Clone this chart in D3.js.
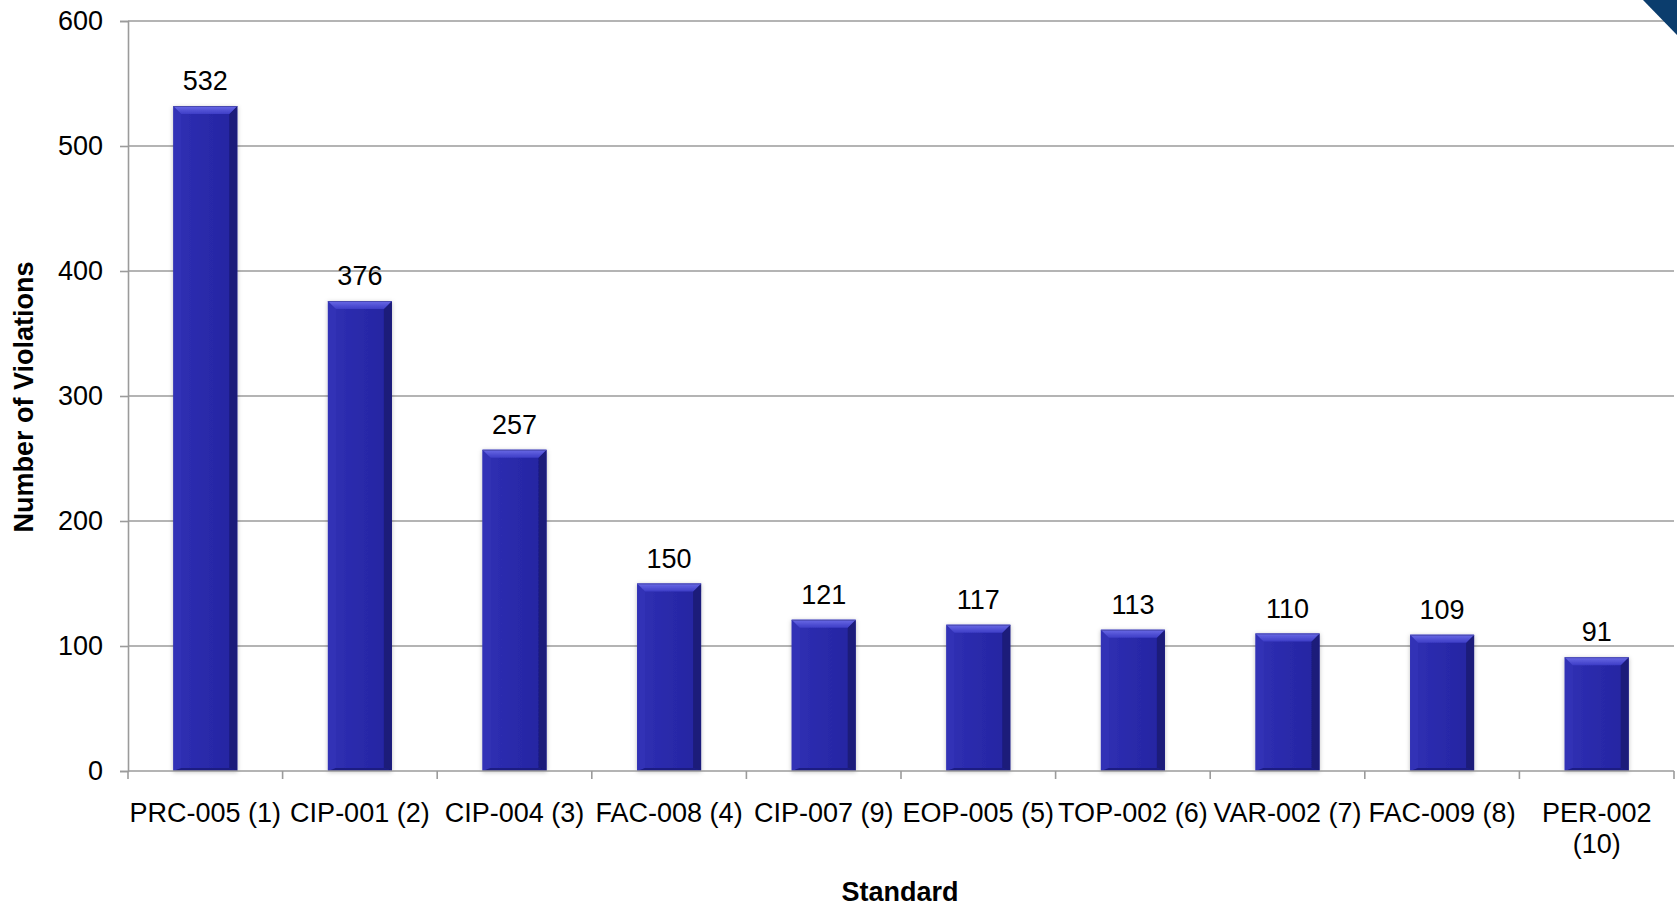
<!DOCTYPE html>
<html>
<head>
<meta charset="utf-8">
<script src="https://cdn.jsdelivr.net/npm/d3@7"></script>
<style>
  html, body { margin: 0; padding: 0; background: #fff; }
  svg { display: block; }
  text { font-family: "Liberation Sans", Arial, sans-serif; fill: #000; }
</style>
</head>
<body>
<svg id="chart" width="1677" height="906"></svg>
<script>
const categories = ["PRC-005 (1)", "CIP-001 (2)", "CIP-004 (3)", "FAC-008 (4)", "CIP-007 (9)", "EOP-005 (5)", "TOP-002 (6)", "VAR-002 (7)", "FAC-009 (8)", "PER-002 (10)"];
const values = [532, 376, 257, 150, 121, 117, 113, 110, 109, 91];
const yTicks = [0, 100, 200, 300, 400, 500, 600];
const yTitle = "Number of Violations";
const xTitle = "Standard";

const svg = d3.select("#chart");
const W = 1677, H = 906;
const margin = {left: 128, right: 3, top: 21, bottom: 135};
const plotW = W - margin.left - margin.right;
const plotH = H - margin.top - margin.bottom;

const x = d3.scaleBand().domain(categories).range([0, plotW]).paddingInner(0.586).paddingOuter(0.293);
const xb = d3.scaleBand().domain(categories).range([0, plotW]).padding(0);
const y = d3.scaleLinear().domain([0, 600]).range([plotH, 0]);

const defs = svg.append("defs");
const g1 = defs.append("linearGradient").attr("id", "barBody").attr("x1", 0).attr("x2", 1).attr("y1", 0).attr("y2", 0);
g1.append("stop").attr("offset", "0%").attr("stop-color", "#3030b4");
g1.append("stop").attr("offset", "45%").attr("stop-color", "#2a2aab");
g1.append("stop").attr("offset", "100%").attr("stop-color", "#2424a0");
const gTop = defs.append("linearGradient").attr("id", "barTop").attr("x1", 0).attr("x2", 0).attr("y1", 0).attr("y2", 1);
gTop.append("stop").attr("offset", "0%").attr("stop-color", "#6a6ae6");
gTop.append("stop").attr("offset", "100%").attr("stop-color", "#3d3dc6");
const f = defs.append("filter").attr("id", "shadow").attr("x", "-20%").attr("y", "-10%").attr("width", "140%").attr("height", "120%");
f.append("feDropShadow").attr("dx", 0).attr("dy", 1).attr("stdDeviation", 2).attr("flood-color", "#000").attr("flood-opacity", 0.25);

const g = svg.append("g").attr("transform", `translate(${margin.left},${margin.top})`);

// gridlines
g.append("g").selectAll("line").data(yTicks.filter(d => d > 0)).join("line")
  .attr("x1", 0).attr("x2", plotW)
  .attr("y1", d => y(d)).attr("y2", d => y(d))
  .attr("stroke", "#9b9b9b").attr("stroke-width", 1.6);

// y axis
const yAxis = g.append("g").call(d3.axisLeft(y).tickValues(yTicks).tickSize(8).tickPadding(17).tickFormat(d3.format("d")));
yAxis.select(".domain").attr("stroke", "#9b9b9b").attr("stroke-width", 1.6);
yAxis.selectAll(".tick line").attr("stroke", "#9b9b9b").attr("stroke-width", 1.6);
yAxis.selectAll(".tick text").attr("font-size", 27).attr("font-family", "Liberation Sans, Arial, sans-serif").attr("fill", "#000");

// bars
const b = 8;
const bars = g.append("g").selectAll("g").data(categories).join("g").attr("filter", "url(#shadow)");
bars.each(function(c, i) {
  const gg = d3.select(this);
  const x0 = x(c), w = x.bandwidth(), y0 = y(values[i]), h = y(0) - y(values[i]);
  gg.append("rect").attr("x", x0).attr("y", y0).attr("width", w).attr("height", h).attr("fill", "url(#barBody)");
  gg.append("polygon").attr("points", `${x0},${y0} ${x0+b},${y0+b} ${x0+b},${y0+h-3} ${x0},${y0+h}`).attr("fill", "#3434b6").attr("opacity", 0.85);
  gg.append("polygon").attr("points", `${x0+w},${y0} ${x0+w-b},${y0+b} ${x0+w-b},${y0+h-3} ${x0+w},${y0+h}`).attr("fill", "#1b1b7a");
  gg.append("polygon").attr("points", `${x0},${y0+h} ${x0+b},${y0+h-3} ${x0+w-b},${y0+h-3} ${x0+w},${y0+h}`).attr("fill", "#1c1c82");
  gg.append("polygon").attr("points", `${x0},${y0} ${x0+w},${y0} ${x0+w-b},${y0+b} ${x0+b},${y0+b}`).attr("fill", "url(#barTop)");
  gg.append("line").attr("x1", x0).attr("x2", x0+w).attr("y1", y0+0.5).attr("y2", y0+0.5).attr("stroke", "#4a4ab0").attr("stroke-width", 1);
});

// value labels
g.append("g").selectAll("text").data(categories).join("text")
  .attr("x", c => x(c) + x.bandwidth() / 2)
  .attr("y", (c, i) => y(values[i]) - 16)
  .attr("text-anchor", "middle").attr("font-size", 27)
  .text((c, i) => values[i]);

// x axis
const xAxisG = g.append("g").attr("transform", `translate(0,${plotH})`);
xAxisG.append("line").attr("x1", 0).attr("x2", plotW).attr("y1", 0).attr("y2", 0).attr("stroke", "#9b9b9b").attr("stroke-width", 1.6);
const bounds = [...categories.map(c => xb(c)), plotW];
xAxisG.selectAll("line.tk").data(bounds).join("line").attr("class", "tk")
  .attr("x1", d => d).attr("x2", d => d).attr("y1", 0).attr("y2", 8)
  .attr("stroke", "#9b9b9b").attr("stroke-width", 1.6);
xAxisG.selectAll("text.cl").data(categories).join("text").attr("class", "cl")
  .attr("text-anchor", "middle").attr("font-size", 27)
  .attr("transform", c => `translate(${xb(c) + xb.bandwidth() / 2},51)`)
  .each(function(c) {
    const t = d3.select(this);
    t.text(c);
    if (this.getComputedTextLength() > xb.bandwidth()) {
      t.text(null);
      const idx = c.lastIndexOf(" ");
      t.append("tspan").attr("x", 0).attr("dy", 0).text(c.slice(0, idx));
      t.append("tspan").attr("x", 0).attr("dy", 31).text(c.slice(idx + 1));
    }
  });

// axis titles
svg.append("text").attr("text-anchor", "middle").attr("font-size", 27).attr("font-weight", "bold")
  .attr("x", margin.left + plotW / 2 - 1).attr("y", 901).text(xTitle);
svg.append("text").attr("text-anchor", "middle").attr("font-size", 27).attr("font-weight", "bold")
  .attr("transform", `translate(33,397) rotate(-90)`).text(yTitle);

// corner decoration
svg.append("polygon").attr("points", `1643,0 ${W},0 ${W},35`).attr("fill", "#0b3d6d");
</script>
</body>
</html>
